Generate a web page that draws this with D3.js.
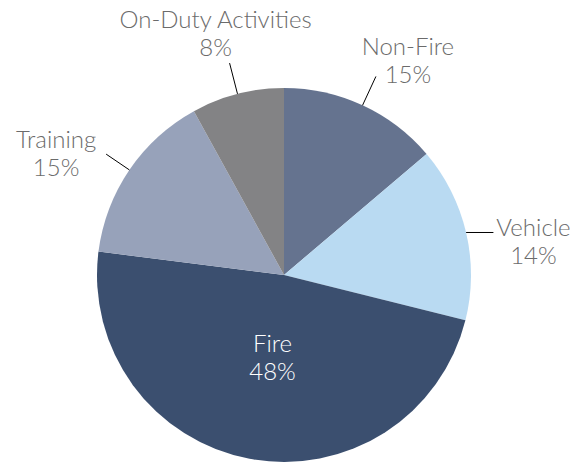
<!DOCTYPE html>
<html>
<head>
<meta charset="utf-8">
<script src="https://cdn.jsdelivr.net/npm/d3@7"></script>
<style>
  body { margin: 0; background: #fff; }
  text { font-family: Lato, "Open Sans", sans-serif; font-weight: 300; }
</style>
</head>
<body>
<div id="chart"></div>
<script>
// slice sizes (angles), labels as printed
let categories = ["Non-Fire", "Vehicle", "Fire", "Training", "On-Duty Activities"];
let values = [13.8, 15.1, 48.1, 15.0, 8.0];
let pctLabels = ["15%", "14%", "48%", "15%", "8%"];
let colors = ["#65738f", "#b9daf2", "#3b4f6f", "#97a2ba", "#838385"];

let width = 576, height = 464;
let cx = 284, cy = 275, radius = 187;

// label offsets from the leader line end (dx, dy of first baseline)
let labelOffsets = [[32, -21], [40, 3], null, [-50, -6], [-14, -35]];
let leaderLen = [1.17, 1.15, 0, 1.15, 1.17];

let svg = d3.select('#chart')
    .append('svg')
    .attr('width', width)
    .attr('height', height)
    .append('g')
    .attr('transform', 'translate(' + cx + ',' + cy + ')');

let pie = d3.pie().sort(null).value(function (d) { return d; });
let arcs = pie(values);

let arc = d3.arc().innerRadius(0).outerRadius(radius);

svg.selectAll('path')
    .data(arcs)
    .enter()
    .append('path')
    .attr('d', arc)
    .style('fill', function (d, i) { return colors[i]; });

function pt(angle, r) {
    return [Math.sin(angle) * r, -Math.cos(angle) * r];
}

arcs.forEach(function (d, i) {
    let mid = (d.startAngle + d.endAngle) / 2;
    if (labelOffsets[i] == null) {
        // inside label
        let c = pt(mid, radius * 0.45);
        let t = svg.append('text')
            .attr('text-anchor', 'middle')
            .style('fill', '#ffffff')
            .style('font-size', '24px');
        t.append('tspan').attr('x', c[0] + 4).attr('y', c[1] - 6).text(categories[i]);
        t.append('tspan').attr('x', c[0] + 4).attr('y', c[1] + 22).text(pctLabels[i]);
        return;
    }
    let p0 = pt(mid, radius);
    let p1 = pt(mid, radius * leaderLen[i]);
    if (i == 1) p1 = [p1[0], p0[1]];
    svg.append('line')
        .attr('x1', p0[0]).attr('y1', p0[1])
        .attr('x2', p1[0]).attr('y2', p1[1])
        .style('stroke', '#000')
        .style('stroke-width', 1);
    let lx = p1[0] + labelOffsets[i][0];
    let ly = p1[1] + labelOffsets[i][1];
    let t = svg.append('text')
        .attr('text-anchor', 'middle')
        .style('fill', '#6b6b6b')
        .style('font-size', '24px');
    t.append('tspan').attr('x', lx).attr('y', ly).text(categories[i]);
    t.append('tspan').attr('x', lx).attr('y', ly + 28).text(pctLabels[i]);
});
</script>
</body>
</html>
